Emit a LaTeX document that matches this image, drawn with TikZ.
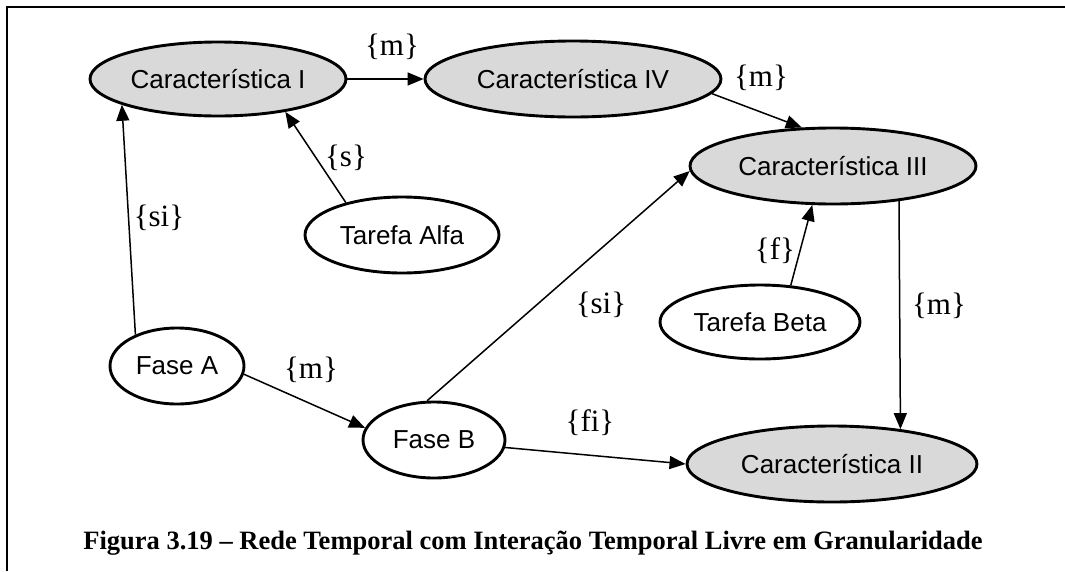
\documentclass[tikz,border=0pt]{standalone}
\usepackage{fontspec}
\setmainfont{Liberation Serif}
\newfontfamily\arialfont{Liberation Sans}
\usetikzlibrary{shapes.geometric,arrows.meta}
\definecolor{nodegray}{RGB}{217,217,217}

\begin{document}
\begin{tikzpicture}[x=1pt,y=-1pt,
  elip/.style={ellipse,draw,line width=2.9pt,inner sep=0pt,
    font=\arialfont\fontsize{26}{30}\selectfont},
  caract/.style={elip,fill=nodegray},
  rel/.style={line width=1.5pt,-{Triangle[length=16pt,width=13pt]}},
  rotulo/.style={font=\fontsize{31}{34}\selectfont}]
  \useasboundingbox (0,0) rectangle (1065,571);
  \draw[line width=1.8pt] (7,571) -- (7,7) -- (1065,7);

  % caracteristicas
  \node[caract,minimum width=256pt,minimum height=74pt] (c1) at (218,79) {Característica I};
  \node[caract,minimum width=296pt,minimum height=76pt] (c4) at (573,79) {Característica IV};
  \node[caract,minimum width=286pt,minimum height=76pt] (c3) at (833,166) {Característica III};
  \node[caract,minimum width=290pt,minimum height=76pt] (c2) at (832,464) {Característica II};

  % tarefas e fases
  \node[elip,minimum width=194pt,minimum height=76pt] (ta) at (402,235) {Tarefa Alfa};
  \node[elip,minimum width=200pt,minimum height=74pt] (tb) at (760,322) {Tarefa Beta};
  \node[elip,minimum width=134pt,minimum height=76pt] (fa) at (177,366) {Fase A};
  \node[elip,minimum width=142pt,minimum height=76pt] (fb) at (434,440) {Fase B};

  % relacoes
  \draw[rel] (c1.east) -- (c4.west);
  \draw[rel] (fa.143) -- (c1.195);
  \draw[rel] (ta.150) -- (c1.334);
  \draw[rel] (c4.354) -- (c3.129);
  \draw[rel] (fb.100) -- (c3.182);
  \draw[rel] (tb.50) -- (c3.242);
  \draw[rel] (c3.332) -- (c2.27);
  \draw[rel] (fa.353) -- (fb.170);
  \draw[rel] (fb.354) -- (c2.west);

  % rotulos
  \node[rotulo] (m1) at (392,47) {\{m\}};
  \node[rotulo] (m2) at (761,78) {\{m\}};
  \node[rotulo] (s1) at (346,158) {\{s\}};
  \node[rotulo] (si1) at (159,218) {\{si\}};
  \node[rotulo] (f1) at (775,251) {\{f\}};
  \node[rotulo] (si2) at (601,305) {\{si\}};
  \node[rotulo] (m3) at (939,306) {\{m\}};
  \node[rotulo] (m4) at (311,370) {\{m\}};
  \node[rotulo] (fi1) at (590,423) {\{fi\}};

  \node[font=\bfseries\fontsize{26.5}{30}\selectfont] (legenda) at (533,543)
    {Figura 3.19 – Rede Temporal com Interação Temporal Livre em Granularidade};
\end{tikzpicture}
\end{document}
